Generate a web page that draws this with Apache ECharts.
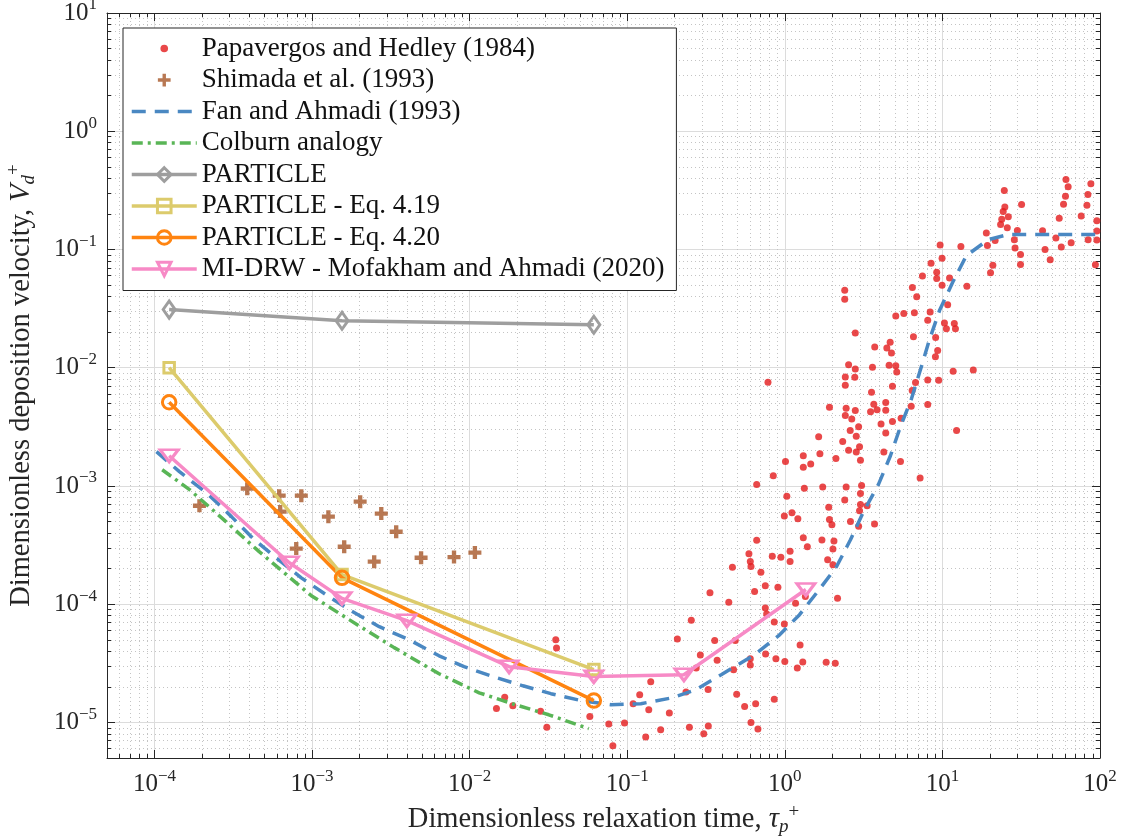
<!DOCTYPE html>
<html><head><meta charset="utf-8">
<script src="https://cdn.jsdelivr.net/npm/echarts@6/dist/echarts.min.js"></script>
<style>html,body{margin:0;padding:0;background:#fff}#c{width:1123px;height:838px}</style>
</head><body><div id="c"></div>
<script>
// ---------------- DATA ----------------
const tauParticle = [1.24e-4, 1.55e-3, 0.0614];
const vParticle   = [0.031, 0.025, 0.0231];
const vEq419      = [0.0100, 1.78e-4, 2.8e-5];
const vEq420      = [5.1e-3, 1.67e-4, 1.53e-5];

const tauDrw = [1.24e-4, 7.18e-4, 1.55e-3, 4.0e-3, 0.0178, 0.0614, 0.229, 1.36];
const vDrw   = [1.8e-3, 2.24e-4, 1.12e-4, 7.25e-5, 2.96e-5, 2.44e-5, 2.53e-5, 1.33e-4];

const tauFan = [1.03e-4,1.44e-4,2.17e-4,3.08e-4,4.24e-4,6.01e-4,8.55e-4,1.23e-3,1.72e-3,2.67e-3,4.13e-3,6.4e-3,9.22e-3,1.41e-2,2.18e-2,3.28e-2,5.08e-2,7.87e-2,0.122,0.195,0.272,0.397,0.644,0.914,1.24,1.69,2.13,2.61,3.16,3.93,4.68,5.42,6.37,7.26,8.28,9.58,11.6,14.2,19.5,26.2,100];
const vFan   = [1.95e-3,1.32e-3,8.61e-4,5.5e-4,3.58e-4,2.43e-4,1.67e-4,1.2e-4,8.98e-5,6.45e-5,5.0e-5,3.66e-5,2.96e-5,2.44e-5,2.04e-5,1.75e-5,1.53e-5,1.41e-5,1.44e-5,1.62e-5,1.89e-5,2.54e-5,3.74e-5,5.41e-5,8.15e-5,1.38e-4,2.08e-4,3.51e-4,6.06e-4,1.03e-3,1.8e-3,3.18e-3,5.48e-3,9.64e-3,1.73e-2,3.04e-2,5.25e-2,8.87e-2,0.121,0.134,0.134];

const tauColburn = [1.12e-4,1.67e-4,2.66e-4,4.62e-4,9.9e-4,1.72e-3,3.32e-3,6.4e-3,1.15e-2,2.06e-2,3.18e-2,5.71e-2];
const vColburn   = [1.37e-3,9.31e-4,5.4e-4,2.78e-4,1.18e-4,7.4e-5,4.29e-5,2.58e-5,1.78e-5,1.38e-5,1.16e-5,8.85e-6];

const tauShimada = [1.93e-4,3.88e-4,6.19e-4,8.55e-4,6.28e-4,1.27e-3,2.02e-3,2.75e-3,3.42e-3,7.94e-4,1.6e-3,2.48e-3,4.92e-3,7.96e-3,1.08e-2];
const vShimada   = [6.8e-4,9.49e-4,8.28e-4,8.28e-4,6.07e-4,5.5e-4,7.36e-4,5.84e-4,4.1e-4,2.95e-4,3.06e-4,2.29e-4,2.47e-4,2.5e-4,2.73e-4];

const papavergos = [
[3.52e-2,5.0e-5],[3.56e-2,4.26e-5],[1.67e-2,1.63e-5],[1.48e-2,1.31e-5],[1.88e-2,1.38e-5],[2.82e-2,1.24e-5],[3.09e-2,9.08e-6],[5.79e-2,1.12e-5],[7.64e-2,9.7e-6],[9.61e-2,9.9e-6],
[8.11e-2,6.35e-6],[0.109,1.44e-5],[0.120,1.71e-5],[0.137,1.28e-5],[0.141,2.21e-5],[0.131,7.52e-6],[0.163,8.68e-6],[0.185,1.2e-5],[0.208,5.08e-5],[0.236,1.81e-5],
[0.248,9.08e-6],[0.255,7.3e-5],[0.274,2.88e-5],
[0.465,2.05e-4],[0.604,2.30e-4],[0.610,2.08e-4],[0.705,1.86e-4],[0.643,1.28e-4],[0.752,1.43e-4],[0.904,1.39e-4],[1.08,2.30e-4],[0.441,1.04e-4],[0.335,1.25e-4],[0.359,4.94e-5],
[0.291,3.72e-5],[0.372,3.35e-5],[0.473,2.79e-5],[0.485,4.94e-5],[0.326,1.90e-5],[0.495,1.73e-5],[0.556,1.36e-5],[0.653,1.44e-5],[0.610,1.0e-5],[0.675,8.79e-6],
[0.857,1.57e-5],[0.755,3.79e-5],[0.878,3.46e-5],[0.604,3.46e-5],[0.604,3.06e-5],[0.767,8.26e-5],[0.752,9.29e-5],[0.857,7.07e-5],[0.993,6.8e-5],[1.25,4.52e-5],
[1.0,3.28e-5],[1.20,2.88e-5],[1.30,3.24e-5],[1.83,3.22e-5],[2.09,3.16e-5],[2.16,1.12e-4],[1.35,1.16e-4],[1.17,1.02e-4],[0.306,8.02e-6],[0.327,9.33e-6],
[1.08,2.80e-4],[0.944,2.49e-4],[0.833,2.54e-4],[1.87,2.38e-4],[2.02,2.16e-4],
[0.663,3.47e-4],[0.592,2.67e-4],[1.31,3.65e-4],[1.39,3.06e-4],[1.72,3.49e-4],[2.05,3.43e-4],[2.02,2.93e-4],
[2.33,2.38e-3],[2.54,2.0e-3],[2.84,1.94e-3],[2.98,2.15e-3],[3.02,1.65e-3],[2.11,1.71e-3],[1.67,1.87e-3],[1.31,1.80e-3],[1.31,1.44e-3],[1.46,1.53e-3],
[1.01,1.61e-3],[0.845,1.22e-3],[0.663,1.03e-3],[1.33,9.54e-4],[1.74,9.8e-4],[2.45,9.8e-4],[3.07,1.01e-3],[3.02,8.61e-4],[2.40,7.61e-4],[3.02,6.98e-4],
[3.33,6.81e-4],[2.98,6.18e-4],[1.03,8.17e-4],[0.993,5.57e-4],[1.11,5.94e-4],[1.21,5.28e-4],[1.90,6.59e-4],[1.92,5.19e-4],[1.99,4.70e-4],[2.61,5.01e-4],
[2.94,4.55e-4],[3.71,4.77e-4],
[9.67,0.109],[13.1,0.106],[9.95,8.41e-2],[8.47,7.64e-2],[9.2,6.41e-2],[7.47,5.97e-2],[9.2,5.67e-2],[11.1,5.75e-2],[9.95,4.98e-2],[14.3,4.89e-2],
[6.45,4.76e-2],[6.87,3.99e-2],[2.40,4.52e-2],[2.40,3.79e-2],[10.8,3.40e-2],[8.36,2.96e-2],[6.64,2.91e-2],[5.69,2.87e-2],[5.06,2.74e-2],[8.07,2.52e-2],
[10.3,2.39e-2],[11.9,2.36e-2],[10.6,2.14e-2],[12.1,2.14e-2],[2.80,1.97e-2],[6.55,1.83e-2],[9.06,1.80e-2],[4.66,1.64e-2],[3.72,1.50e-2],[4.44,1.47e-2],
[4.75,1.33e-2],[9.33,1.40e-2],[9.03,1.24e-2],[2.54,1.06e-2],[3.60,1.01e-2],[4.59,1.05e-2],[5.06,1.04e-2],[2.80,9.77e-3],[5.13,9.21e-3],[11.7,9.32e-3],
[15.7,9.58e-3],[2.42,8.36e-3],[2.78,8.29e-3],[8.07,7.88e-3],[9.47,7.82e-3],[6.75,7.48e-3],[2.42,7.1e-3],[4.82,6.96e-3],[3.55,6.19e-3],[6.43,6.4e-3],
[1.92,4.62e-3],[2.45,4.53e-3],[2.80,4.34e-3],[3.67,4.9e-3],[4.37,5.07e-3],[3.85,4.40e-3],[3.50,4.25e-3],[4.37,4.37e-3],[6.34,4.71e-3],[8.07,4.88e-3],
[2.42,3.94e-3],[2.66,3.69e-3],[5.47,3.73e-3],[4.82,3.50e-3],[4.08,3.34e-3],[2.94,3.16e-3],[2.60,2.94e-3],[4.37,2.81e-3],[2.84,2.63e-3],[12.3,2.95e-3],
[1.64,2.60e-3],[4.25,1.94e-3],[5.42,1.61e-3],[7.22,1.17e-3],[0.782,7.52e-3],
[24.7,0.315],[24.9,0.229],[24.3,0.209],[26.2,0.189],[23.8,0.18],[23.4,0.163],[25.8,0.153],[31.8,0.240],[19.0,0.138],[21.6,0.119],
[19.3,0.108],[29.9,0.145],[28.6,0.121],[28.9,0.103],[31.3,9.06e-2],[31.3,7.45e-2],[20.9,7.35e-2],[20.2,6.37e-2],[43.2,0.144],[44.8,0.100],
[48.3,8.17e-2],[52.5,0.125],[56.8,0.105],[55.1,0.184],[58.7,0.241],[60.4,0.282],[62.8,0.339],[60.8,0.390],[65.6,0.114],[76.0,0.192],
[82.6,0.237],[83.8,0.291],[87.5,0.359],[84.1,0.121],[95.5,0.175],[95.5,0.143],[95.5,0.12],[93.5,7.41e-2]
];

const names = ['Papavergos and Hedley (1984)','Shimada et al. (1993)','Fan and Ahmadi (1993)','Colburn analogy',
  'PARTICLE','PARTICLE - Eq. 4.19','PARTICLE - Eq. 4.20','MI-DRW - Mofakham and Ahmadi (2020)'];

// ---------------- STYLE ----------------
const FONT = '"Liberation Serif", "Times New Roman", serif';
const AX = '#262626';
const RED = '#e41a1c', BROWN = '#a65628', BLUE = '#4a88c2', GREEN = '#59b556',
      GREY = '#9e9e9e', KHAKI = '#dccb6c', ORANGE = '#ff8410', PINK = '#f78ac6';
const CLEAR = 'rgba(255,255,255,0)';
const PLUS = 'path://M4,0H8V4H12V8H8V12H4V8H0V4H4Z';
const DOT_ICON = 'path://M0,0L0.01,0M20,20L20.01,20M14.5,10A4.5,4.5,0,1,1,5.5,10A4.5,4.5,0,1,1,14.5,10Z';
const PLUS_ICON = 'path://M0,0L0.01,0M20,20L20.01,20M8,2.5H12V8H17.5V12H12V17.5H8V12H2.5V8H8Z';

function zip(xs, ys){ return xs.map((x,i)=>[x, ys[i]]); }
function powLabel(v){
  const e = Math.round(Math.log10(v));
  return '{b|10}{s|' + (e < 0 ? '\u2212' + (-e) : String(e)) + '}';
}
const labelRich = {
  b:{fontFamily:FONT,fontSize:25,color:AX},
  s:{fontFamily:FONT,fontSize:17,color:AX,padding:[0,0,16,0]}
};
const nameRich = {
  i:{fontFamily:FONT,fontSize:28.5,fontStyle:'italic',color:AX},
  sub:{fontFamily:FONT,fontSize:19,fontStyle:'italic',color:AX,padding:[13,0,0,0]},
  sup:{fontFamily:FONT,fontSize:19,color:AX,padding:[0,0,15,0]}
};

function baseAxis(min, max, pos, main){
  return {
    type:'log', logBase:10, min:min, max:max, position:pos,
    axisLine:{show:true, onZero:false, lineStyle:{color:AX, width:1}},
    axisTick:{show:true, inside:true, length:8, lineStyle:{color:AX, width:1}},
    minorTick:{show:true, splitNumber:9, length:4, lineStyle:{color:AX, width:1}},
    splitLine:{show:main, lineStyle:{color:'#dcdcdc', width:1}},
    minorSplitLine:{show:main, lineStyle:{color:'#c4c4c4', width:1, type:[1,3]}},
    axisLabel:{show:main, formatter:powLabel, rich:labelRich, margin:10, showMinLabel:false},
    silent:true
  };
}

const xMain = Object.assign(baseAxis(5e-5, 100, 'bottom', true), {
  name:'Dimensionless relaxation time, {i|τ}{sub|p}{sup|+}',
  nameLocation:'middle', nameGap:45,
  nameTextStyle:{fontFamily:FONT, fontSize:28.5, color:AX, rich:nameRich}
});
const yMain = Object.assign(baseAxis(5e-6, 10, 'left', true), {
  name:'Dimensionless deposition velocity, {i|V}{sub|d}{sup|+}',
  nameLocation:'middle', nameGap:68,
  nameTextStyle:{fontFamily:FONT, fontSize:28.5, color:AX, rich:nameRich}
});

const option = {
  animation:false,
  backgroundColor:'#fff',
  grid:{left:107, right:23, top:13, bottom:80, containLabel:false, outerBoundsMode:'none'},
  xAxis:[xMain, baseAxis(5e-5, 100, 'top', false)],
  yAxis:[yMain, baseAxis(5e-6, 10, 'right', false)],
  legend:{
    orient:'vertical', left:123, top:28, padding:[7,12,8,7],
    itemWidth:65, itemHeight:17, itemGap:4.5,
    backgroundColor:'#fff', borderColor:AX, borderWidth:1, borderRadius:0,
    textStyle:{fontFamily:FONT, fontSize:27, color:'#111', lineHeight:27},
    selectedMode:false,
    data:[
      {name:names[0], icon:DOT_ICON, itemStyle:{color:RED}},
      {name:names[1], icon:PLUS_ICON, itemStyle:{color:BROWN}},
      {name:names[2], itemStyle:{opacity:0}, lineStyle:{color:BLUE, width:3.5}},
      {name:names[3], itemStyle:{opacity:0}, lineStyle:{color:GREEN, width:3.5}},
      {name:names[4], itemStyle:{color:CLEAR, borderColor:GREY, borderWidth:3}, lineStyle:{color:GREY, width:3.5}},
      {name:names[5], itemStyle:{color:CLEAR, borderColor:KHAKI, borderWidth:3}, lineStyle:{color:KHAKI, width:3.5}},
      {name:names[6], itemStyle:{color:CLEAR, borderColor:ORANGE, borderWidth:3}, lineStyle:{color:ORANGE, width:3.5}},
      {name:names[7], itemStyle:{color:CLEAR, borderColor:PINK, borderWidth:3}, lineStyle:{color:PINK, width:3.5}}
    ]
  },
  series:[
    {name:names[0], type:'scatter', data:papavergos, symbol:'circle', symbolSize:7,
     itemStyle:{color:RED}, emphasis:{disabled:true}},
    {name:names[1], type:'scatter', data:zip(tauShimada, vShimada), symbol:PLUS, symbolSize:13,
     itemStyle:{color:BROWN}, emphasis:{disabled:true}},
    {name:names[2], type:'line', data:zip(tauFan, vFan), symbol:'none',
     lineStyle:{color:BLUE, width:3.5, type:[14,9]}, emphasis:{disabled:true}},
    {name:names[3], type:'line', data:zip(tauColburn, vColburn), symbol:'none',
     lineStyle:{color:GREEN, width:3.5, type:[11,5,3,5]}, emphasis:{disabled:true}},
    {name:names[4], type:'line', data:zip(tauParticle, vParticle), symbol:'diamond', symbolSize:[12,17],
     itemStyle:{color:CLEAR, borderColor:GREY, borderWidth:3}, lineStyle:{color:GREY, width:3.5}, emphasis:{disabled:true}},
    {name:names[5], type:'line', data:zip(tauParticle, vEq419), symbol:'rect', symbolSize:10.5,
     itemStyle:{color:CLEAR, borderColor:KHAKI, borderWidth:3}, lineStyle:{color:KHAKI, width:3.5}, emphasis:{disabled:true}},
    {name:names[6], type:'line', data:zip(tauParticle, vEq420), symbol:'circle', symbolSize:13.5,
     itemStyle:{color:CLEAR, borderColor:ORANGE, borderWidth:3}, lineStyle:{color:ORANGE, width:3.5}, emphasis:{disabled:true}},
    {name:names[7], type:'line', data:zip(tauDrw, vDrw), symbol:'triangle', symbolSize:[18,12], symbolRotate:180,
     itemStyle:{color:CLEAR, borderColor:PINK, borderWidth:3}, lineStyle:{color:PINK, width:3.5}, emphasis:{disabled:true}}
  ]
};
const chart = echarts.init(document.getElementById('c'), null, {renderer:'canvas'});
chart.setOption(option);
</script></body></html>
